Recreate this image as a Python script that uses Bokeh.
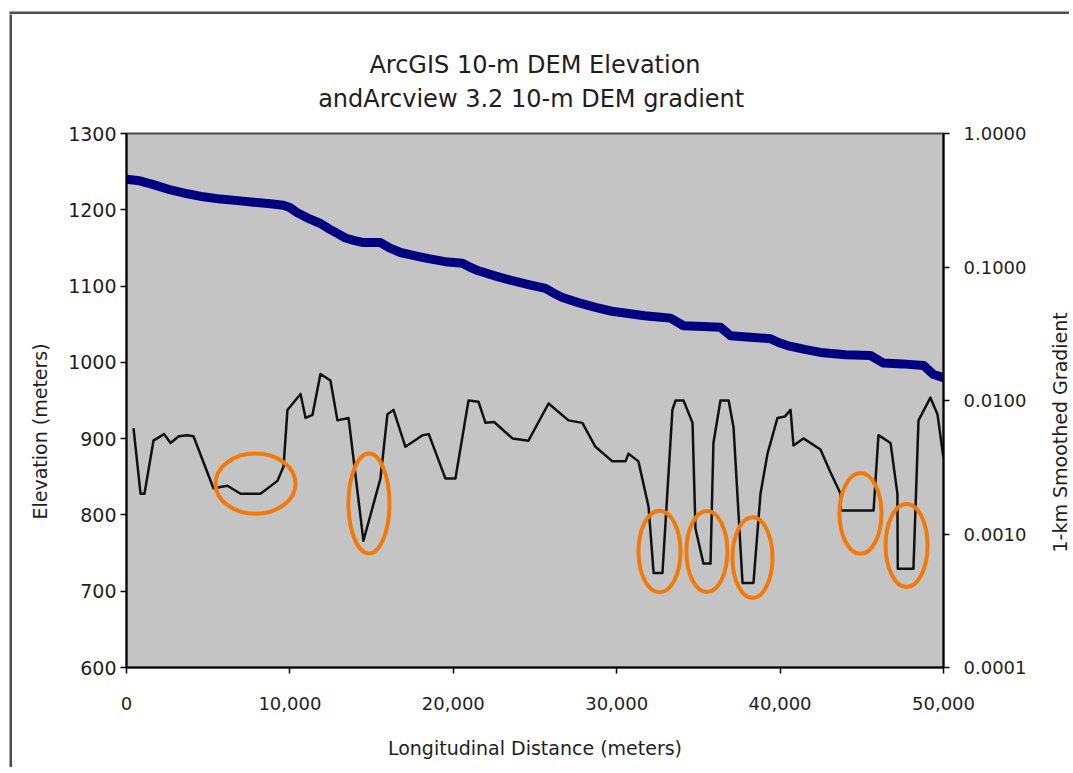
from bokeh.plotting import figure
from bokeh.layouts import row, column
from bokeh.models import (Range1d, LogScale, LogAxis, LinearAxis, FixedTicker, Title,
                          PrintfTickFormatter, NumeralTickFormatter, ColumnDataSource)
from bokeh.embed import file_html
from bokeh.resources import INLINE

# ---------------- data ----------------
elev_dist = [0, 800, 1650, 2700, 3730, 4700, 5750, 6800, 7770, 8800, 9600, 10000,
             10460, 11200, 11870, 12400, 12900, 13400, 13900, 14500, 15540, 16100,
             16770, 17600, 18480, 19500, 20560, 21000, 21540, 22600, 23620, 24600,
             25640, 26200, 26680, 27700, 28700, 29700, 30720, 31700, 32700, 33290,
             34090, 35300, 36350, 36960, 38200, 39410, 39900, 40450, 41500, 42470,
             44000, 45530, 46330, 47500, 48780, 49390, 50000]
elevation = [1240, 1238, 1233, 1226, 1221, 1217, 1214, 1212, 1210, 1208, 1206, 1203,
             1196, 1188, 1182, 1175, 1169, 1163, 1160, 1157, 1157, 1150,
             1144, 1140, 1136, 1132, 1130, 1125, 1120, 1113, 1107, 1102,
             1097, 1090, 1085, 1078, 1072, 1067, 1064, 1061, 1059, 1058,
             1048, 1047, 1046, 1035, 1033, 1031, 1026, 1022, 1017, 1013,
             1010, 1009, 999, 998, 996, 984, 980]

grad_dist = [430, 860, 1100, 1650, 2300, 2700, 3200, 3730, 4100, 5320, 6180, 6980,
             8200, 9240, 9610, 9850, 10650, 10960, 11380, 11870, 12480, 12910, 13590,
             14500, 15540, 15970, 16340, 17070, 18120, 18500, 19520, 20130, 20930,
             21540, 21970, 22500, 23620, 24600, 25830, 27050, 27900, 28700, 29740,
             30540, 30720, 31330, 31950, 32260, 32800, 33410, 33600, 34090, 34640,
             34820, 35310, 35740, 35920, 36350, 36850, 37150, 37700, 38370, 38800,
             39230, 39840, 40300, 40640, 40820, 41430, 42470, 43080, 43700, 43720,
             45720, 46020, 46760, 47180, 47200, 48160, 48470, 49200, 49630, 50000]
gradient = [0.0062, 0.0020, 0.0020, 0.0050, 0.0056, 0.0048, 0.0054, 0.0055, 0.0054,
            0.0022, 0.0023, 0.0020, 0.0020, 0.0025, 0.0032, 0.0085, 0.0112, 0.0074,
            0.0078, 0.0158, 0.0141, 0.0071, 0.0074, 0.00089, 0.0026, 0.0079, 0.0085,
            0.0045, 0.0055, 0.0056, 0.0026, 0.0026, 0.0100, 0.0098, 0.0068, 0.0069,
            0.0052, 0.0050, 0.0095, 0.0071, 0.0068, 0.0045, 0.0035, 0.0035, 0.0040,
            0.0035, 0.0016, 0.00051, 0.00051, 0.0085, 0.0100, 0.0100, 0.0068, 0.0011,
            0.00060, 0.00060, 0.0048, 0.0100, 0.0100, 0.0063, 0.00043, 0.00043,
            0.0020, 0.0040, 0.0074, 0.0076, 0.0085, 0.0046, 0.0052, 0.0043, 0.0029,
            0.0020, 0.0015, 0.0015, 0.0055, 0.0048, 0.0020, 0.00055, 0.00055, 0.0071,
            0.0105, 0.0079, 0.0037]

# highlighted spots (orange rings), in distance / elevation units
ring_x = [7895, 14840, 32620, 35520, 38310, 44920, 47740]
ring_y = [841, 815, 752, 752, 744, 802, 760]
ring_w = [4896, 2509, 2570, 2509, 2448, 2570, 2570]
ring_h = [79, 131, 107, 106, 106, 106, 109]

x_ticks = [0, 10000, 20000, 30000, 40000, 50000]
elev_ticks = [600, 700, 800, 900, 1000, 1100, 1200, 1300]
grad_ticks = [0.0001, 0.001, 0.01, 0.1, 1.0]

title_lines = ["ArcGIS 10-m DEM Elevation", "andArcview 3.2 10-m  DEM gradient"]
x_label = "Longitudinal Distance (meters)"
y_label = "Elevation (meters)"
y2_label = "1-km Smoothed Gradient"

# ---------------- style ----------------
FONT = "DejaVu Sans"
TXT = "#1e1e1e"
EDGE = "#4d4d4d"
FW, FH = 817, 534
TOP, BOTTOM = 119, 100


def blank(align_frame=True, **kw):
    """A figure used only for layout pieces (chart border, side title)."""
    f = figure(output_backend="svg", toolbar_location=None,
               x_axis_location=None, y_axis_location=None, **kw)
    f.xgrid.visible = False
    f.ygrid.visible = False
    f.outline_line_color = None
    f.border_fill_color = "white"
    if not align_frame and "frame_align" in type(f).properties():
        f.frame_align = False
    return f


# chart-area border (top and left edges of the Excel chart box)
top_edge = blank(align_frame=False, frame_width=1060, frame_height=3,
                 min_border_left=9, min_border_right=0, min_border_top=11,
                 min_border_bottom=0, background_fill_color=EDGE)
left_edge = blank(align_frame=False, frame_width=3, frame_height=753,
                  min_border_left=9, min_border_right=0, min_border_top=0,
                  min_border_bottom=0, background_fill_color=EDGE)

# ---------------- main figure ----------------
p = figure(frame_width=FW, frame_height=FH,
           min_border_left=114, min_border_right=86,
           min_border_top=TOP, min_border_bottom=BOTTOM,
           x_range=Range1d(0, 50000), y_range=Range1d(600, 1300),
           output_backend="svg", toolbar_location=None,
           background_fill_color="#c4c4c4", border_fill_color="white")

p.outline_line_color = "#4a4a4a"
p.outline_line_width = 2
p.xgrid.visible = False
p.ygrid.visible = False

p.extra_y_ranges = {"grad": Range1d(0.0001, 1.0)}
p.extra_y_scales = {"grad": LogScale()}

xa = p.xaxis[0]
xa.ticker = FixedTicker(ticks=x_ticks)
xa.formatter = NumeralTickFormatter(format="0,0")
xa.major_label_standoff = 23
xa.axis_label = x_label
xa.axis_label_standoff = 24

ya = p.yaxis[0]
ya.ticker = FixedTicker(ticks=elev_ticks)
ya.major_label_standoff = 4

ra = LogAxis(y_range_name="grad", ticker=FixedTicker(ticks=grad_ticks),
             formatter=PrintfTickFormatter(format="%.4f"))
ra.major_label_standoff = 14
p.add_layout(ra, "right")

for ax in [xa, ya, ra]:
    ax.axis_line_color = "black"
    ax.axis_line_width = 2
    ax.major_tick_line_color = "black"
    ax.major_tick_line_width = 1.5
    ax.major_tick_out = 6
    ax.major_tick_in = 0
    ax.minor_tick_line_color = None
    ax.major_label_text_font = FONT
    ax.major_label_text_font_size = "18px"
    ax.major_label_text_color = TXT
    ax.axis_label_text_font = FONT
    ax.axis_label_text_font_size = "19px"
    ax.axis_label_text_font_style = "normal"
    ax.axis_label_text_color = TXT
ya.major_label_text_font_size = "19px"

# title: second line as the label of a bare top axis, first line as a title above it
top_ax = LinearAxis(ticker=FixedTicker(ticks=[]), axis_label=title_lines[1])
top_ax.axis_line_color = None
top_ax.major_tick_line_color = None
top_ax.minor_tick_line_color = None
top_ax.major_tick_out = 0
top_ax.major_label_standoff = 0
top_ax.axis_label_standoff = 21
top_ax.axis_label_text_font = FONT
top_ax.axis_label_text_font_size = "24px"
top_ax.axis_label_text_font_style = "normal"
top_ax.axis_label_text_color = TXT
p.add_layout(top_ax, "above")

p.add_layout(Title(text=title_lines[0], align="center", text_font=FONT,
                   text_font_size="24px", text_font_style="normal",
                   text_color=TXT, standoff=6), "above")

# left axis title, placed along the axis like the original
p.add_layout(Title(text=y_label, align="left", offset=148, text_font=FONT,
                   text_font_size="19px", text_font_style="normal",
                   text_color=TXT, standoff=29), "left")

# right axis title (reads bottom-to-top like the original) in a slim side figure
side = blank(frame_width=1, frame_height=FH, min_border_left=41,
             min_border_right=0, min_border_top=TOP, min_border_bottom=BOTTOM,
             background_fill_color="white")
side.add_layout(Title(text=y2_label, align="left", offset=115, text_font=FONT,
                      text_font_size="19px", text_font_style="normal",
                      text_color=TXT, standoff=0), "left")

# ---------------- glyphs ----------------
elev_src = ColumnDataSource(dict(x=elev_dist, y=elevation))
grad_src = ColumnDataSource(dict(x=grad_dist, y=gradient))
ring_src = ColumnDataSource(dict(x=ring_x, y=ring_y, w=ring_w, h=ring_h))

p.line("x", "y", source=elev_src, line_color="#000080", line_width=9,
       line_cap="round", line_join="round")
p.line("x", "y", source=grad_src, y_range_name="grad", line_color="#111111",
       line_width=2.5, line_join="round")
p.ellipse("x", "y", width="w", height="h", source=ring_src, fill_color=None,
          line_color="#f27a0a", line_width=4)

layout = column(top_edge, row(left_edge, p, side, spacing=0), spacing=0)
open("out.html", "w").write(file_html(layout, INLINE))
